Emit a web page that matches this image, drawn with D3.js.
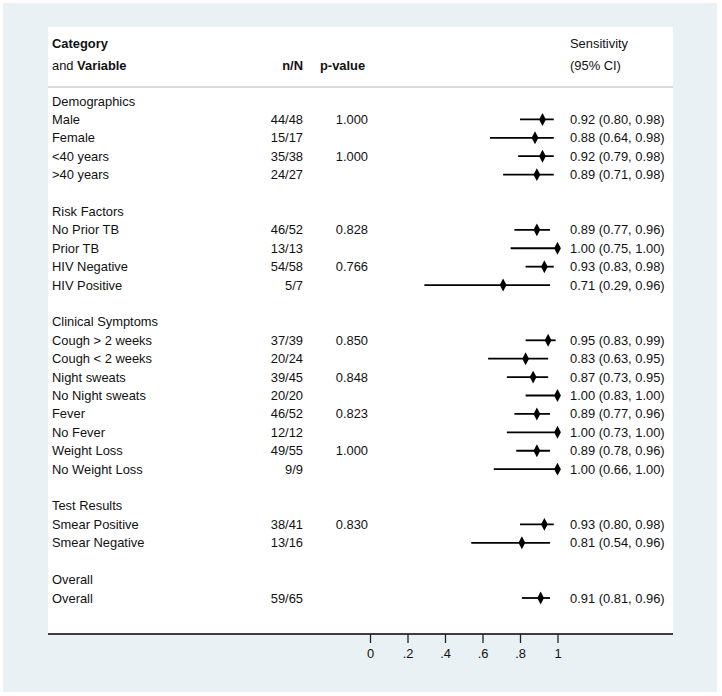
<!DOCTYPE html>
<html>
<head>
<style>
	body { margin: 0; background: white; }
	text { font-family: "Liberation Sans", Arial, sans-serif; font-size: 12.9px; fill: #111; }
	.bold { font-weight: bold; }
</style>
</head>
<body>
<svg width="722" height="696"></svg>
<script src="https://cdn.jsdelivr.net/npm/d3@7"></script>
<script>
const width = 722;
const height = 696;

// rows in display order; a null estimate means a group heading, "" means an empty row
const labels = ["Demographics", "Male", "Female", "<40 years", ">40 years", "",
	"Risk Factors", "No Prior TB", "Prior TB", "HIV Negative", "HIV Positive", "",
	"Clinical Symptoms", "Cough > 2 weeks", "Cough < 2 weeks", "Night sweats", "No Night sweats",
	"Fever", "No Fever", "Weight Loss", "No Weight Loss", "",
	"Test Results", "Smear Positive", "Smear Negative", "",
	"Overall", "Overall"];
const nN = [null, "44/48", "15/17", "35/38", "24/27", null,
	null, "46/52", "13/13", "54/58", "5/7", null,
	null, "37/39", "20/24", "39/45", "20/20", "46/52", "12/12", "49/55", "9/9", null,
	null, "38/41", "13/16", null,
	null, "59/65"];
const pValues = [null, "1.000", null, "1.000", null, null,
	null, "0.828", null, "0.766", null, null,
	null, "0.850", null, "0.848", null, "0.823", null, "1.000", null, null,
	null, "0.830", null, null,
	null, null];
const estimate = [null, 0.92, 0.88, 0.92, 0.89, null,
	null, 0.89, 1.00, 0.93, 0.71, null,
	null, 0.95, 0.83, 0.87, 1.00, 0.89, 1.00, 0.89, 1.00, null,
	null, 0.93, 0.81, null,
	null, 0.91];
const lower = [null, 0.80, 0.64, 0.79, 0.71, null,
	null, 0.77, 0.75, 0.83, 0.29, null,
	null, 0.83, 0.63, 0.73, 0.83, 0.77, 0.73, 0.78, 0.66, null,
	null, 0.80, 0.54, null,
	null, 0.81];
const upper = [null, 0.98, 0.98, 0.98, 0.98, null,
	null, 0.96, 1.00, 0.98, 0.96, null,
	null, 0.99, 0.95, 0.95, 1.00, 0.96, 1.00, 0.96, 1.00, null,
	null, 0.98, 0.96, null,
	null, 0.96];
const xTicks = [0, 0.2, 0.4, 0.6, 0.8, 1];

const rows = labels.map((l, i) => ({
	label: l, nN: nN[i], p: pValues[i], est: estimate[i], lo: lower[i], hi: upper[i], i: i
}));

var svg = d3.select("svg");

// outer background and white plot panel
svg.append("rect").attr("x", 3).attr("y", 3).attr("width", 714).attr("height", 689)
	.attr("fill", "#e9f1f4");
svg.append("rect").attr("x", 48).attr("y", 27).attr("width", 625).attr("height", 607)
	.attr("fill", "white");

var x = d3.scaleLinear().domain([0, 1]).range([370, 557.5]);
var y = d3.scaleLinear().domain([0, rows.length - 1]).range([101, 598]);

// header
var header = svg.append("g");
header.append("text").attr("x", 52).attr("y", 48).attr("class", "bold").text("Category");
var h2 = header.append("text").attr("x", 52).attr("y", 70);
h2.append("tspan").text("and ");
h2.append("tspan").attr("class", "bold").text("Variable");
header.append("text").attr("x", 303).attr("y", 70).attr("text-anchor", "end").attr("class", "bold").text("n/N");
header.append("text").attr("x", 320).attr("y", 70).attr("class", "bold").text("p-value");
header.append("text").attr("x", 570).attr("y", 48).text("Sensitivity");
header.append("text").attr("x", 570).attr("y", 70).text("(95% CI)");

svg.append("line").attr("x1", 48).attr("x2", 673).attr("y1", 87).attr("y2", 87)
	.attr("stroke", "#d0d0d0").attr("stroke-width", 1.5);

// table text
var g = svg.append("g");
g.selectAll(".label").data(rows).enter().append("text")
	.attr("class", "label").attr("x", 52).attr("y", d => y(d.i)).attr("dy", "0.35em")
	.text(d => d.label);
g.selectAll(".nn").data(rows.filter(d => d.nN)).enter().append("text")
	.attr("class", "nn").attr("x", 303).attr("y", d => y(d.i)).attr("dy", "0.35em")
	.attr("text-anchor", "end").text(d => d.nN);
g.selectAll(".pv").data(rows.filter(d => d.p)).enter().append("text")
	.attr("class", "pv").attr("x", 368).attr("y", d => y(d.i)).attr("dy", "0.35em")
	.attr("text-anchor", "end").text(d => d.p);

var est = rows.filter(d => d.est != null);
var f = d3.format(".2f");
g.selectAll(".ci").data(est).enter().append("text")
	.attr("class", "ci").attr("x", 570).attr("y", d => y(d.i)).attr("dy", "0.35em")
	.text(d => f(d.est) + " (" + f(d.lo) + ", " + f(d.hi) + ")");

// CI lines and diamonds
g.selectAll(".bar").data(est).enter().append("line")
	.attr("x1", d => x(d.lo)).attr("x2", d => x(d.hi))
	.attr("y1", d => y(d.i)).attr("y2", d => y(d.i))
	.attr("stroke", "black").attr("stroke-width", 1.8);
g.selectAll(".dot").data(est).enter().append("path")
	.attr("d", d3.symbol(d3.symbolDiamond, 40))
	.attr("transform", d => "translate(" + x(d.est) + "," + y(d.i) + ") scale(1,1.1)")
	.attr("fill", "black");

// axis
svg.append("line").attr("x1", 48).attr("x2", 673).attr("y1", 634).attr("y2", 634)
	.attr("stroke", "black").attr("stroke-width", 1.3);
var axis = svg.append("g").attr("transform", "translate(0,634)")
	.call(d3.axisBottom(x).tickValues(xTicks).tickSize(9).tickPadding(6)
		.tickFormat(d => d === 0 || d === 1 ? String(d) : d3.format(".1f")(d).replace(/^0/, "")));
axis.select(".domain").remove();
axis.selectAll("line").attr("stroke", "#222").attr("stroke-width", 1.3);
axis.selectAll("text").attr("font-family", null).attr("font-size", null).attr("fill", "#111")
	.style("font-size", "12.9px");
</script>
</body>
</html>
